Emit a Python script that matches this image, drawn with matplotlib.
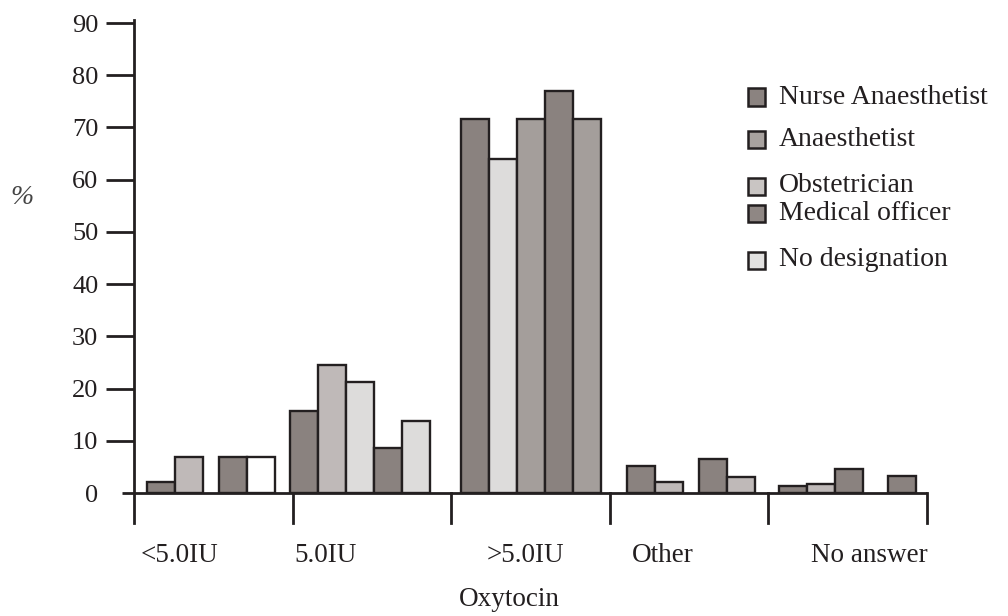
import numpy as np
import matplotlib
matplotlib.use("Agg")
import matplotlib.pyplot as plt
from matplotlib.patches import Rectangle

plt.rcParams['font.family'] = ['Liberation Serif', 'DejaVu Serif']

# data
categories = ['<5.0IU', '5.0IU', '>5.0IU', 'Other', 'No answer']
series_names = ['Nurse Anaesthetist', 'Anaesthetist', 'Obstetrician',
                'Medical officer', 'No designation']
nurse_anaesthetist = [2.2, 15.7, 71.6, 5.2, 1.3]
anaesthetist = [6.9, 24.6, 64.0, 2.2, 1.8]
obstetrician = [np.nan, 21.3, 71.6, np.nan, 4.6]
medical_officer = [6.9, 8.7, 77.0, 6.6, np.nan]
no_designation = [6.9, 13.7, 71.6, 3.1, 3.3]
yticks = list(range(0, 100, 10))

# styling (the printed figure shades bars per group, not per series)
INK = '#231f20'
DARK, MED, LIGHT, PALE, WHITE = '#8a827f', '#a49e9b', '#bfb9b8', '#dddcdb', '#ffffff'
series_colors = ['#8b8380', '#a8a29f', '#c9c5c3', '#8f8784', '#e2e1e0']
bar_shades = [
    [DARK, LIGHT, None, DARK, WHITE],
    [DARK, LIGHT, PALE, DARK, PALE],
    [DARK, PALE, MED, DARK, MED],
    [DARK, LIGHT, None, DARK, LIGHT],
    [DARK, LIGHT, DARK, None, DARK],
]
group_shift = [-0.016, -0.076, 0.006, 0.012, 0.0]   # cluster offsets, group units
group_gap = [0.10, 0.10, 0.10, 0.10, 0.158]          # space left by a missing bar
label_x = [0.29, 1.21, 2.465, 3.335, 4.637]
legend_y = [97, 139.5, 186, 213, 260]

W, H = 1008, 616
fig = plt.figure(figsize=(W / 100, H / 100), dpi=100)
ax = fig.add_axes([134 / W, (H - 493) / H, 793 / W, 470 / H])
ax.set_xlim(0, 5)
ax.set_ylim(0, 90)
for s in ax.spines.values():
    s.set_visible(False)

values = np.array([nurse_anaesthetist, anaesthetist, obstetrician,
                   medical_officer, no_designation]).T  # groups x series

bar_w = 0.1765
for g, row in enumerate(values):
    widths = [bar_w if not np.isnan(v) else group_gap[g] for v in row]
    x = g + 0.5 + group_shift[g] - sum(widths) / 2
    for s, v in enumerate(row):
        if not np.isnan(v):
            ax.bar(x, v, width=bar_w, align='edge', color=bar_shades[g][s],
                   edgecolor=INK, linewidth=1.7, zorder=2)
        x += widths[s]

# axis lines drawn by hand to mimic the printed layout
lw = 2.0
y_low = -5.74
ax.plot([0, 0], [y_low, 90.6], color=INK, lw=lw, clip_on=False, zorder=3)
ax.plot([-0.076, 5], [0, 0], color=INK, lw=lw, clip_on=False, zorder=3,
        solid_capstyle='butt')
for b in range(1, 6):
    ax.plot([b, b], [y_low, 0], color=INK, lw=lw, clip_on=False, zorder=3)

ax.set_xticks([])
ax.set_yticks(yticks)
ax.tick_params(axis='y', direction='out', length=20.2, width=lw, color=INK,
               labelsize=19, labelcolor=INK, pad=5.5)
ax.yaxis.get_major_ticks()[0].tick1line.set_visible(False)

for xc, lab in zip(label_x, categories):
    ax.text(xc, -11.9, lab, ha='center', va='center', fontsize=19.5, color=INK)

fig.text(509 / W, 1 - 600 / H, 'Oxytocin', ha='center', va='center',
         fontsize=19.5, color=INK)
fig.text(22 / W, 1 - 197 / H, '%', ha='center', va='center',
         fontsize=20, color='#444444', style='italic')

# legend
box = 17
for name, col, yc in zip(series_names, series_colors, legend_y):
    fig.patches.append(Rectangle((748 / W, 1 - (yc + box / 2) / H), box / W, box / H,
                                 transform=fig.transFigure, facecolor=col,
                                 edgecolor=INK, linewidth=1.8))
    fig.text(779 / W, 1 - yc / H, name, ha='left', va='center',
             fontsize=20, color=INK)

fig.savefig('out.png', dpi=100)
